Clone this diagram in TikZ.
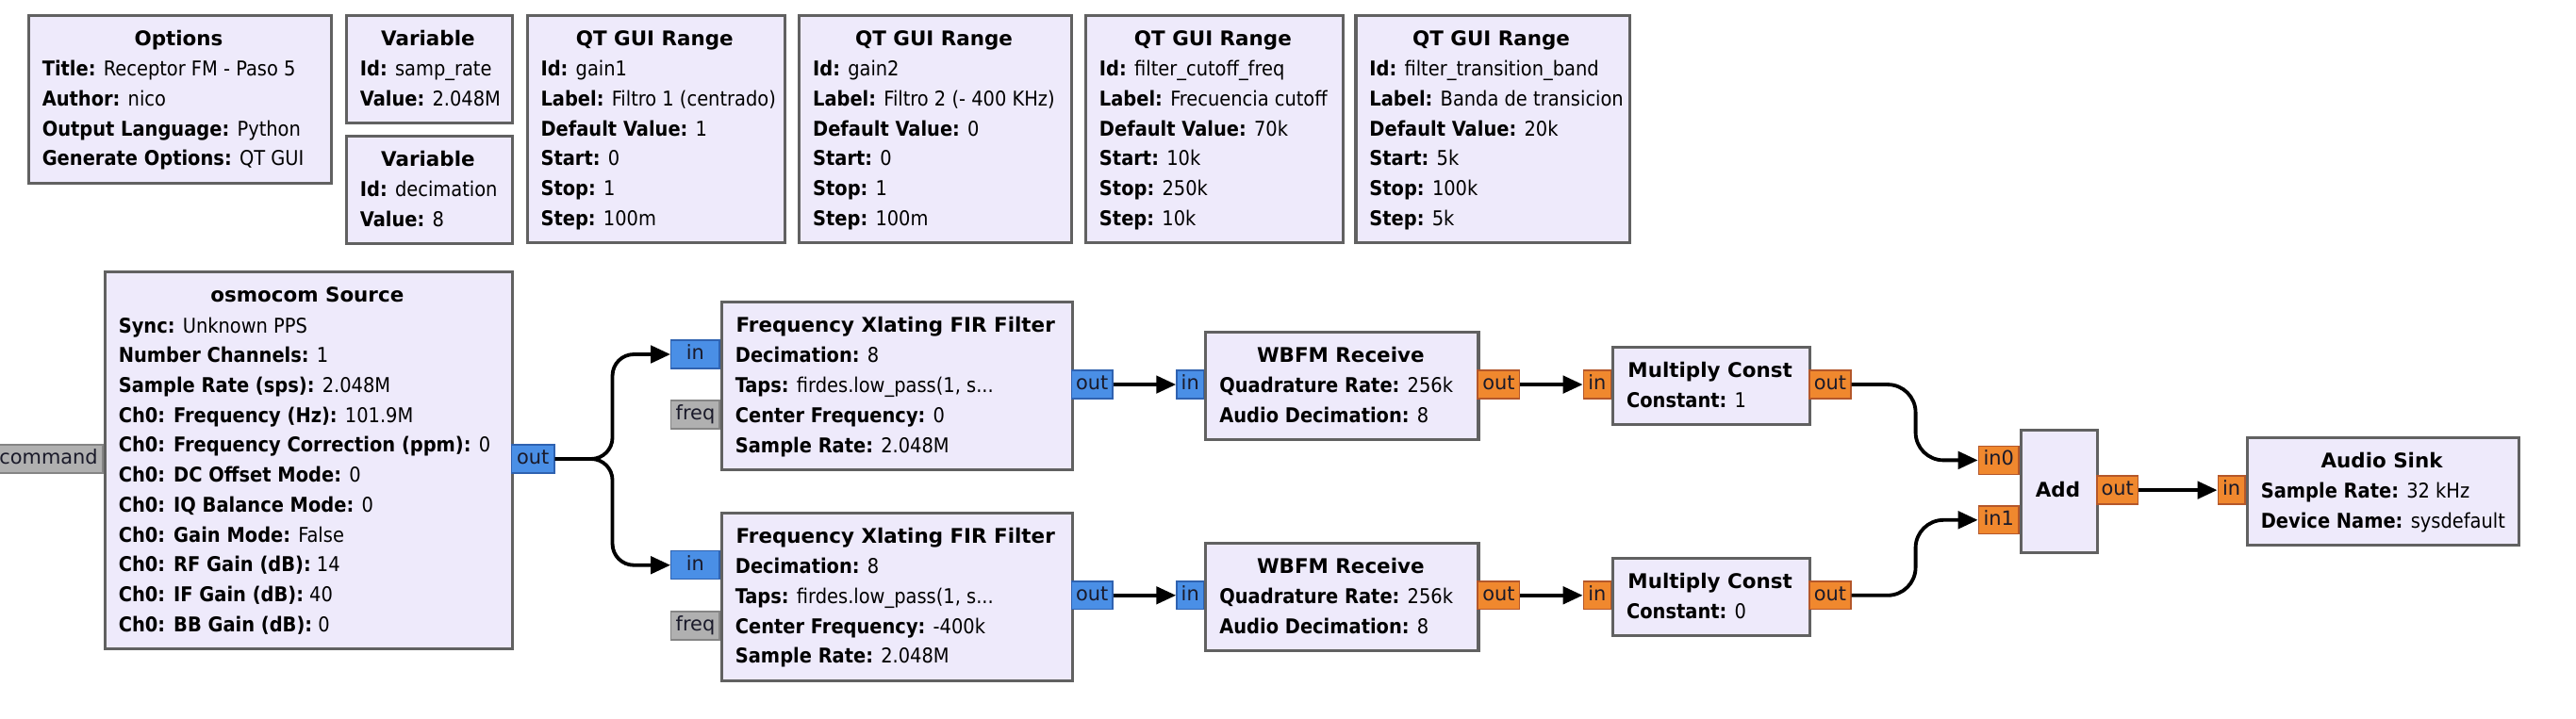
\documentclass[tikz,border=0pt]{standalone}
\usepackage{fontspec}
\setmainfont{DejaVu Sans Condensed}
\newfontfamily\portfont{DejaVu Sans}
\newfontfamily\titlefont{DejaVu Sans}
\usetikzlibrary{arrows.meta}
\definecolor{blkfill}{HTML}{EEEAFB}
\definecolor{blkdraw}{HTML}{616161}
\definecolor{cplx}{HTML}{4A8FE6}
\definecolor{cplxd}{HTML}{2F62B0}
\definecolor{flt}{HTML}{F0882E}
\definecolor{fltd}{HTML}{B4572A}
\definecolor{msg}{HTML}{B0B0B0}
\definecolor{msgd}{HTML}{858585}
\definecolor{porttxt}{HTML}{1A1A2A}
\newcommand\kv[2]{\textbf{#1:} #2}
\newcommand\grcblock[7]{%
  \node[blk, minimum width=#4pt, minimum height=#5pt] (#1) at (#2,#3) {};
  \node[ttl] (#1-t) at (#2+#4/2, #3+19.3) {#6};
  \node[body] (#1-b) at (#2+9, #3+24.8) {\strut #7};
}
\tikzset{
  basefont/.style={font=\fontsize{12.4}{18.2}\selectfont},
  blk/.style={draw=blkdraw, fill=blkfill, line width=1.8pt, anchor=north west, inner sep=0pt},
  ttl/.style={font=\titlefont\fontsize{12.3}{18.2}\selectfont\bfseries, anchor=base, inner sep=0pt},
  body/.style={basefont, align=left, anchor=north west, inner sep=0pt},
  port/.style={line width=0.8pt, minimum height=17.2pt, inner sep=0pt, text height=8.6pt, text depth=2.4pt,
    font=\portfont\fontsize{12}{14}\selectfont, text=porttxt},
  cport/.style={port, fill=cplx, draw=cplxd},
  fport/.style={port, fill=flt, draw=fltd},
  mport/.style={port, fill=msg, draw=msgd},
  inport/.style={anchor=east},
  outport/.style={anchor=west},
  wire/.style={line width=2.2pt, -{Triangle[length=12pt,width=10.5pt]}},
}
\begin{document}
\begin{tikzpicture}[x=1pt,y=-1pt]
\useasboundingbox (0,0) rectangle (1568,437.35);
\fill[white] (0,0) rectangle (1568,437.35);

% top row
\grcblock{opt}{16.5}{8.6}{184.5}{102}{Options}{\kv{Title}{Receptor FM - Paso 5}\\ \kv{Author}{nico}\\ \kv{Output Language}{Python}\\ \kv{Generate Options}{QT GUI}}
\grcblock{var1}{210}{8.6}{101}{65.4}{Variable}{\kv{Id}{samp\_rate}\\ \kv{Value}{2.048M}}
\grcblock{var2}{210}{82}{101}{65.4}{Variable}{\kv{Id}{decimation}\\ \kv{Value}{8}}
\grcblock{rng1}{320}{8.6}{157}{138.2}{QT GUI Range}{\kv{Id}{gain1}\\ \kv{Label}{Filtro 1 (centrado)}\\ \kv{Default Value}{1}\\ \kv{Start}{0}\\ \kv{Stop}{1}\\ \kv{Step}{100m}}
\grcblock{rng2}{485.6}{8.6}{165.8}{138.2}{QT GUI Range}{\kv{Id}{gain2}\\ \kv{Label}{Filtro 2 (- 400 KHz)}\\ \kv{Default Value}{0}\\ \kv{Start}{0}\\ \kv{Stop}{1}\\ \kv{Step}{100m}}
\grcblock{rng3}{660}{8.6}{156.6}{138.2}{QT GUI Range}{\kv{Id}{filter\_cutoff\_freq}\\ \kv{Label}{Frecuencia cutoff}\\ \kv{Default Value}{70k}\\ \kv{Start}{10k}\\ \kv{Stop}{250k}\\ \kv{Step}{10k}}
\grcblock{rng4}{824.4}{8.6}{166.6}{138.2}{QT GUI Range}{\kv{Id}{filter\_transition\_band}\\ \kv{Label}{Banda de transicion}\\ \kv{Default Value}{20k}\\ \kv{Start}{5k}\\ \kv{Stop}{100k}\\ \kv{Step}{5k}}

% flow blocks
\grcblock{src}{63}{164.9}{248}{229.2}{osmocom Source}{\kv{Sync}{Unknown PPS}\\ \kv{Number Channels}{1}\\ \kv{Sample Rate (sps)}{2.048M}\\ \kv{Ch0: Frequency (Hz)}{101.9M}\\ \kv{Ch0: Frequency Correction (ppm)}{0}\\ \kv{Ch0: DC Offset Mode}{0}\\ \kv{Ch0: IQ Balance Mode}{0}\\ \kv{Ch0: Gain Mode}{False}\\ \kv{Ch0: RF Gain (dB)}{14}\\ \kv{Ch0: IF Gain (dB)}{40}\\ \kv{Ch0: BB Gain (dB)}{0}}
\grcblock{fx1}{438.4}{183.2}{213.4}{102}{Frequency Xlating FIR Filter}{\kv{Decimation}{8}\\ \kv{Taps}{firdes.low\_pass(1, s...}\\ \kv{Center Frequency}{0}\\ \kv{Sample Rate}{2.048M}}
\grcblock{fx2}{438.4}{311.6}{213.4}{102}{Frequency Xlating FIR Filter}{\kv{Decimation}{8}\\ \kv{Taps}{firdes.low\_pass(1, s...}\\ \kv{Center Frequency}{-400k}\\ \kv{Sample Rate}{2.048M}}
\grcblock{wb1}{733.1}{201.5}{165.9}{65.4}{WBFM Receive}{\kv{Quadrature Rate}{256k}\\ \kv{Audio Decimation}{8}}
\grcblock{wb2}{733.1}{329.9}{165.9}{65.4}{WBFM Receive}{\kv{Quadrature Rate}{256k}\\ \kv{Audio Decimation}{8}}
\grcblock{mc1}{980.9}{210.6}{120}{47.2}{Multiply Const}{\kv{Constant}{1}}
\grcblock{mc2}{980.9}{339.0}{120}{47.2}{Multiply Const}{\kv{Constant}{0}}
\node[blk, minimum width=46.8pt, minimum height=74.6pt] (add) at (1229.2,261.2) {};
\node[ttl] (add-t) at (1252.6,303.0) {Add};
\grcblock{snk}{1367}{265.6}{165.6}{65.4}{Audio Sink}{\kv{Sample Rate}{32 kHz}\\ \kv{Device Name}{sysdefault}}

% ports
\node[mport, inport, minimum width=66pt] (src-cmd) at (63,279.5) {command};
\node[cport, outport, minimum width=26pt] (src-out) at (311,279.5) {out};
\node[cport, inport, minimum width=29.5pt] (fx1-in) at (438.4,215.8) {in};
\node[mport, inport, minimum width=29.5pt] (fx1-fq) at (438.4,252.6) {freq};
\node[cport, outport, minimum width=25pt] (fx1-out) at (651.8,234.2) {out};
\node[cport, inport, minimum width=29.5pt] (fx2-in) at (438.4,344.2) {in};
\node[mport, inport, minimum width=29.5pt] (fx2-fq) at (438.4,381.0) {freq};
\node[cport, outport, minimum width=25pt] (fx2-out) at (651.8,362.6) {out};
\node[cport, inport, minimum width=16.5pt] (wb1-in) at (733.1,234.2) {in};
\node[fport, outport, minimum width=25.6pt] (wb1-out) at (899,234.2) {out};
\node[cport, inport, minimum width=16.5pt] (wb2-in) at (733.1,362.6) {in};
\node[fport, outport, minimum width=25.6pt] (wb2-out) at (899,362.6) {out};
\node[fport, inport, minimum width=16.7pt] (mc1-in) at (980.9,234.2) {in};
\node[fport, outport, minimum width=25.3pt] (mc1-out) at (1100.9,234.2) {out};
\node[fport, inport, minimum width=16.7pt] (mc2-in) at (980.9,362.6) {in};
\node[fport, outport, minimum width=25.3pt] (mc2-out) at (1100.9,362.6) {out};
\node[fport, inport, minimum width=24.5pt] (add-in0) at (1229.2,280.3) {in0};
\node[fport, inport, minimum width=24.5pt] (add-in1) at (1229.2,316.7) {in1};
\node[fport, outport, minimum width=25pt] (add-out) at (1276,298.5) {out};
\node[fport, inport, minimum width=16.6pt] (snk-in) at (1367,298.5) {in};

% connections
\draw[wire, rounded corners=13pt] (src-out.east) -- ++(35,0) |- (fx1-in.west);
\draw[wire, rounded corners=13pt] (src-out.east) -- ++(35,0) |- (fx2-in.west);
\draw[wire] (fx1-out.east) -- (wb1-in.west);
\draw[wire] (fx2-out.east) -- (wb2-in.west);
\draw[wire] (wb1-out.east) -- (mc1-in.west);
\draw[wire] (wb2-out.east) -- (mc2-in.west);
\draw[wire, rounded corners=17pt] (mc1-out.east) -- ++(39,0) |- (add-in0.west);
\draw[wire, rounded corners=17pt] (mc2-out.east) -- ++(39,0) |- (add-in1.west);
\draw[wire] (add-out.east) -- (snk-in.west);
\end{tikzpicture}
\end{document}
